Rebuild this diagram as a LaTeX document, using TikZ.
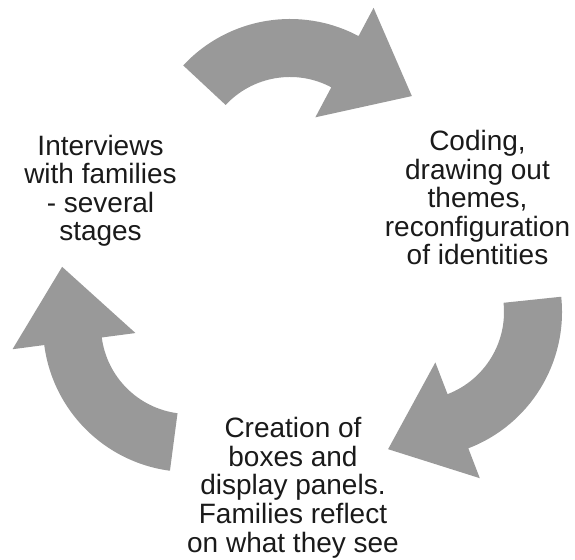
\documentclass[tikz,border=0pt]{standalone}
\usepackage{fontspec}
\setmainfont{Liberation Sans}
\definecolor{arrowgray}{RGB}{153,153,153}
\definecolor{textdark}{RGB}{26,26,26}
\tikzset{
  % curved block arrow: tail at 75 deg, head base at 0 deg, tip beyond
  cyclearrow/.pic={
    \fill[arrowgray] (75:146) arc[start angle=75, end angle=0, radius=146]
      -- (0:178) -- (-32.5:140) -- (0:54) -- (0:88)
      arc[start angle=0, end angle=75, radius=88] -- cycle;
  },
  % multi-line labels; the base anchor sits on the last line
  steptext/.style={align=center, font=\fontsize{28}{28.5}\selectfont,
    text=textdark, inner sep=0pt, anchor=base}
}
\begin{document}
\begin{tikzpicture}[x=1pt,y=1pt]
\useasboundingbox (0,0) rectangle (575,559);
\coordinate (ctop) at (290,394);
\coordinate (cright) at (416,247);
\coordinate (cleft) at (189,233);
\pic[rotate=62] at (ctop) {cyclearrow};
\pic[rotate=-69] at (cright) {cyclearrow};
\pic[rotate=187.5] at (cleft) {cyclearrow};
\node[steptext] (interviews) at (100.5,318) {Interviews\\with families\\- several\\stages};
\node[steptext] (coding) at (477.5,294) {Coding,\\drawing out\\themes,\\reconfiguration\\of identities};
\node[steptext] (creation) at (293,7) {Creation of\\boxes and\\display panels.\\Families reflect\\on what they see};
\end{tikzpicture}
\end{document}
